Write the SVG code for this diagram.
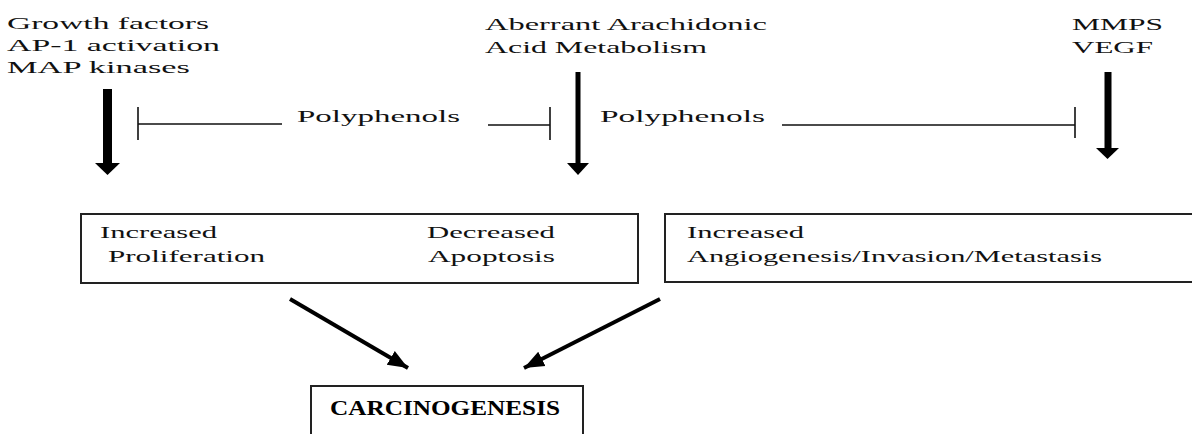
<svg xmlns="http://www.w3.org/2000/svg" width="1192" height="434" viewBox="0 0 1192 434">
<style>
text{font-family:"Liberation Serif","Times New Roman",serif;fill:#111;font-size:17.5px}
.box{fill:#fff;stroke:#222;stroke-width:2}
.inh{stroke:#111;stroke-width:1.6;fill:none}
.diag{stroke:#000;stroke-width:4;fill:none}
.head{fill:#000}
.bold{font-weight:bold;font-size:22px;fill:#000}
</style>
<defs>
<marker id="ah" markerUnits="userSpaceOnUse" markerWidth="24" markerHeight="20" refX="20" refY="10" orient="auto">
<path d="M0,2 L20,10 L0,18 Z" fill="#000"/>
</marker>
</defs>
<g id="n-growth">
<text x="7" y="29" textLength="202" lengthAdjust="spacingAndGlyphs">Growth factors</text>
<text x="7" y="51" textLength="213" lengthAdjust="spacingAndGlyphs">AP-1 activation</text>
<text x="7" y="73" textLength="183" lengthAdjust="spacingAndGlyphs">MAP kinases</text>
</g>
<g id="n-arachidonic">
<text x="485" y="30" textLength="282" lengthAdjust="spacingAndGlyphs">Aberrant Arachidonic</text>
<text x="485" y="53" textLength="222" lengthAdjust="spacingAndGlyphs">Acid Metabolism</text>
</g>
<g id="n-mmps">
<text x="1072" y="30" textLength="91" lengthAdjust="spacingAndGlyphs">MMPS</text>
<text x="1072" y="53" textLength="81" lengthAdjust="spacingAndGlyphs">VEGF</text>
</g>
<g id="n-poly1">
<text x="297" y="122" textLength="163" lengthAdjust="spacingAndGlyphs">Polyphenols</text>
</g>
<g id="n-poly2">
<text x="600" y="122" textLength="165" lengthAdjust="spacingAndGlyphs">Polyphenols</text>
</g>
<g id="n-prolif">
<rect class="box" x="81" y="214" width="557" height="69"/>
<text x="100" y="238" textLength="117" lengthAdjust="spacingAndGlyphs">Increased</text>
<text x="108" y="262" textLength="157" lengthAdjust="spacingAndGlyphs">Proliferation</text>
<text x="427" y="238" textLength="128" lengthAdjust="spacingAndGlyphs">Decreased</text>
<text x="428" y="262" textLength="127" lengthAdjust="spacingAndGlyphs">Apoptosis</text>
</g>
<g id="n-angio">
<rect class="box" x="665" y="214" width="540" height="68"/>
<text x="687" y="238" textLength="117" lengthAdjust="spacingAndGlyphs">Increased</text>
<text x="687" y="262" textLength="415" lengthAdjust="spacingAndGlyphs">Angiogenesis/Invasion/Metastasis</text>
</g>
<g id="n-carcino">
<rect class="box" x="311" y="386" width="272" height="60"/>
<text class="bold" x="330" y="415" textLength="230" lengthAdjust="spacingAndGlyphs">CARCINOGENESIS</text>
</g>
<g id="connectors">
<rect x="103" y="89" width="9" height="75"/>
<polygon class="head" points="95,163 120,163 107.5,175"/>
<rect x="575.5" y="72" width="5" height="92"/>
<polygon class="head" points="567,163 589,163 578,175"/>
<rect x="1104.5" y="72" width="7" height="77"/>
<polygon class="head" points="1096,148 1119,148 1107.5,159"/>
<path class="inh" d="M282,124 H138 M138,107 V140"/>
<path class="inh" d="M488,125 H550 M550,107 V140"/>
<path class="inh" d="M782,125 H1075 M1075,107 V138"/>
<line class="diag" x1="290" y1="299" x2="408" y2="368" marker-end="url(#ah)"/>
<line class="diag" x1="660" y1="299" x2="524" y2="368" marker-end="url(#ah)"/>
</g>
</svg>
